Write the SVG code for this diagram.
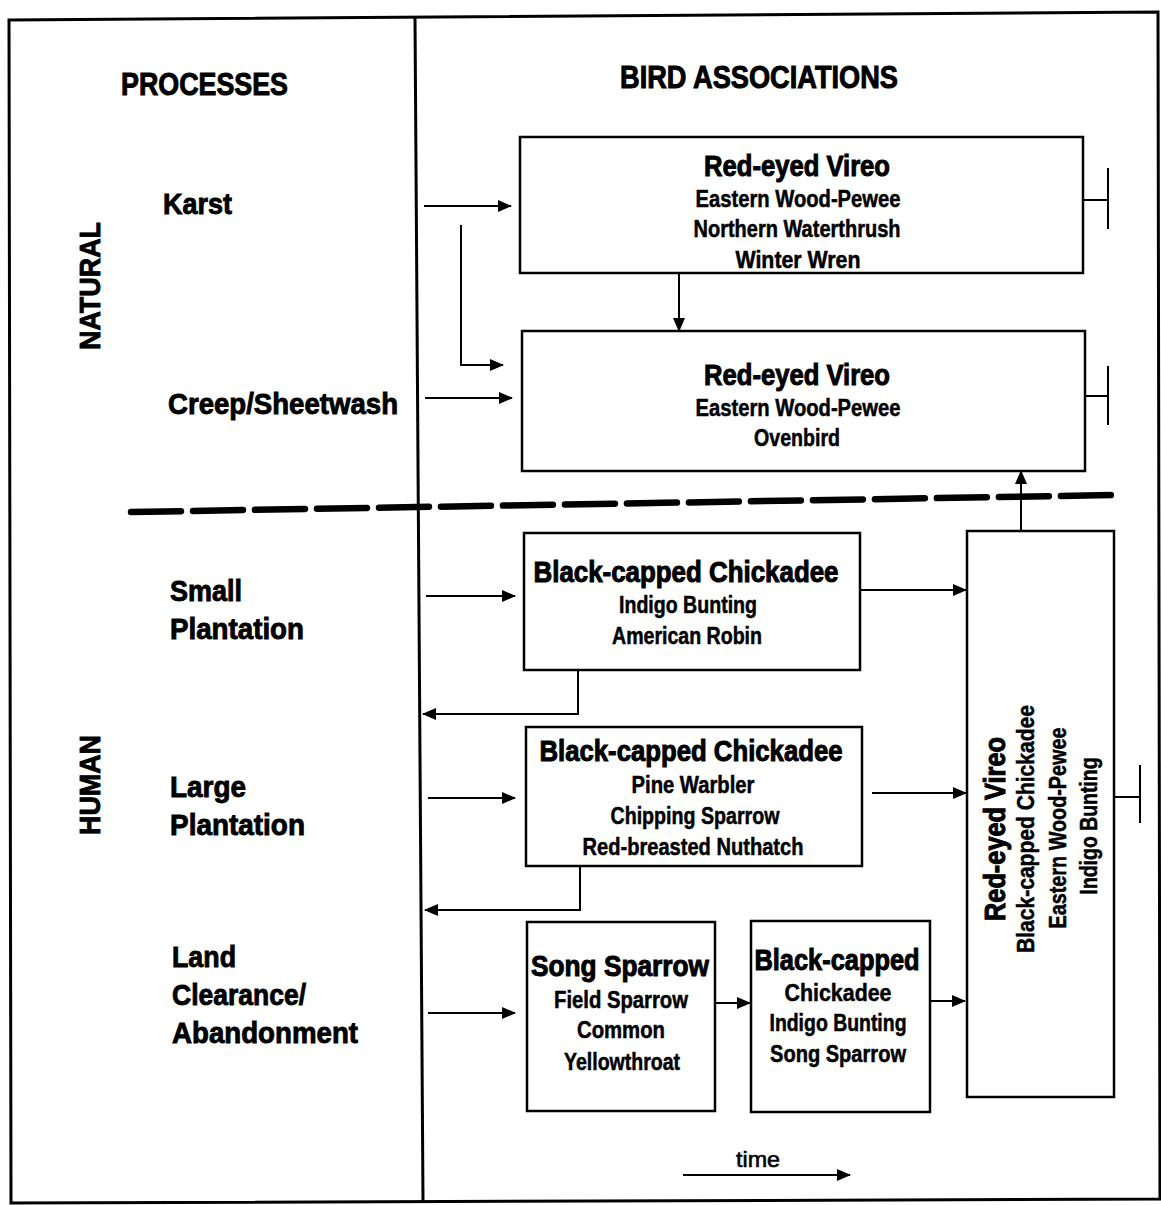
<svg xmlns="http://www.w3.org/2000/svg" width="1161" height="1205" viewBox="0 0 1161 1205">
<style>
text{font-family:"Liberation Sans",Arial,Helvetica,sans-serif;font-weight:bold;fill:#000;}
.h{font-size:32px;stroke:#000;stroke-width:1px;}
.p{font-size:30px;stroke:#000;stroke-width:0.9px;}
.t{font-size:29px;stroke:#000;stroke-width:1px;text-anchor:middle;}
.s{font-size:23px;stroke:#000;stroke-width:0.5px;text-anchor:middle;}
.box{fill:#fff;stroke:#000;stroke-width:2.5;}
.c{fill:none;stroke:#000;stroke-width:2;}
.frame{fill:none;stroke:#000;stroke-width:3;}
</style>
<defs>
<marker id="ah" markerUnits="userSpaceOnUse" markerWidth="14" markerHeight="12" refX="13" refY="6" orient="auto">
<path d="M0,0 L14,6 L0,12 Z" fill="#000"/>
</marker>
</defs>
<rect width="1161" height="1205" fill="#fff"/>
<g id="frame">
<path class="frame" d="M9,20 L1158,12 L1160,1199 L11,1203 Z"/>
<line x1="415" y1="18" x2="423" y2="1201" stroke="#000" stroke-width="3"/>
<line x1="131" y1="512" x2="1117" y2="495" stroke="#000" stroke-width="6.5" stroke-dasharray="50 12" stroke-linecap="round"/>
</g>
<g id="headings">
<text class="h" x="121" y="95" textLength="167" lengthAdjust="spacingAndGlyphs">PROCESSES</text>
<text class="h" x="620" y="88" textLength="278" lengthAdjust="spacingAndGlyphs">BIRD ASSOCIATIONS</text>
<text class="p" transform="translate(100,286) rotate(-90)" text-anchor="middle" textLength="128" lengthAdjust="spacingAndGlyphs">NATURAL</text>
<text class="p" transform="translate(100,785) rotate(-90)" text-anchor="middle" textLength="100" lengthAdjust="spacingAndGlyphs">HUMAN</text>
</g>
<g id="processes">
<text class="p" x="163" y="214" textLength="69" lengthAdjust="spacingAndGlyphs">Karst</text>
<text class="p" x="168" y="414" textLength="230" lengthAdjust="spacingAndGlyphs">Creep/Sheetwash</text>
<text class="p" x="170" y="601" textLength="72" lengthAdjust="spacingAndGlyphs">Small</text>
<text class="p" x="170" y="639" textLength="134" lengthAdjust="spacingAndGlyphs">Plantation</text>
<text class="p" x="170" y="797" textLength="76" lengthAdjust="spacingAndGlyphs">Large</text>
<text class="p" x="170" y="835" textLength="135" lengthAdjust="spacingAndGlyphs">Plantation</text>
<text class="p" x="172" y="967" textLength="64" lengthAdjust="spacingAndGlyphs">Land</text>
<text class="p" x="172" y="1005" textLength="134" lengthAdjust="spacingAndGlyphs">Clearance/</text>
<text class="p" x="172" y="1043" textLength="186" lengthAdjust="spacingAndGlyphs">Abandonment</text>
</g>
<g id="box1">
<rect class="box" x="520" y="137" width="563" height="136"/>
<text class="t" x="797" y="176" textLength="186" lengthAdjust="spacingAndGlyphs">Red-eyed Vireo</text>
<text class="s" x="798" y="207" textLength="205" lengthAdjust="spacingAndGlyphs">Eastern Wood-Pewee</text>
<text class="s" x="797" y="237" textLength="207" lengthAdjust="spacingAndGlyphs">Northern Waterthrush</text>
<text class="s" x="798" y="268" textLength="125" lengthAdjust="spacingAndGlyphs">Winter Wren</text>
</g>
<g id="box2">
<rect class="box" x="522" y="331" width="563" height="140"/>
<text class="t" x="797" y="385" textLength="186" lengthAdjust="spacingAndGlyphs">Red-eyed Vireo</text>
<text class="s" x="798" y="416" textLength="205" lengthAdjust="spacingAndGlyphs">Eastern Wood-Pewee</text>
<text class="s" x="797" y="446" textLength="86" lengthAdjust="spacingAndGlyphs">Ovenbird</text>
</g>
<g id="box3">
<rect class="box" x="524" y="533" width="336" height="137"/>
<text class="t" x="686" y="582" textLength="305" lengthAdjust="spacingAndGlyphs">Black-capped Chickadee</text>
<text class="s" x="688" y="613" textLength="138" lengthAdjust="spacingAndGlyphs">Indigo Bunting</text>
<text class="s" x="687" y="644" textLength="150" lengthAdjust="spacingAndGlyphs">American Robin</text>
</g>
<g id="box4">
<rect class="box" x="526" y="727" width="336" height="139"/>
<text class="t" x="691" y="761" textLength="303" lengthAdjust="spacingAndGlyphs">Black-capped Chickadee</text>
<text class="s" x="693" y="793" textLength="123" lengthAdjust="spacingAndGlyphs">Pine Warbler</text>
<text class="s" x="695" y="824" textLength="169" lengthAdjust="spacingAndGlyphs">Chipping Sparrow</text>
<text class="s" x="693" y="855" textLength="221" lengthAdjust="spacingAndGlyphs">Red-breasted Nuthatch</text>
</g>
<g id="box5">
<rect class="box" x="527" y="922" width="188" height="189"/>
<text class="t" x="620" y="976" textLength="178" lengthAdjust="spacingAndGlyphs">Song Sparrow</text>
<text class="s" x="621" y="1008" textLength="134" lengthAdjust="spacingAndGlyphs">Field Sparrow</text>
<text class="s" x="621" y="1038" textLength="88" lengthAdjust="spacingAndGlyphs">Common</text>
<text class="s" x="622" y="1070" textLength="116" lengthAdjust="spacingAndGlyphs">Yellowthroat</text>
</g>
<g id="box6">
<rect class="box" x="751" y="921" width="179" height="191"/>
<text class="t" x="837" y="970" textLength="165" lengthAdjust="spacingAndGlyphs">Black-capped</text>
<text class="s" x="838" y="1001" textLength="107" lengthAdjust="spacingAndGlyphs">Chickadee</text>
<text class="s" x="838" y="1031" textLength="137" lengthAdjust="spacingAndGlyphs">Indigo Bunting</text>
<text class="s" x="838" y="1062" textLength="136" lengthAdjust="spacingAndGlyphs">Song Sparrow</text>
</g>
<g id="box7">
<rect class="box" x="967" y="531" width="147" height="566"/>
<text class="t" transform="translate(1005,829) rotate(-90)" textLength="184" lengthAdjust="spacingAndGlyphs">Red-eyed Vireo</text>
<text class="s" transform="translate(1034,829) rotate(-90)" textLength="248" lengthAdjust="spacingAndGlyphs">Black-capped Chickadee</text>
<text class="s" transform="translate(1066,828) rotate(-90)" textLength="201" lengthAdjust="spacingAndGlyphs">Eastern Wood-Pewee</text>
<text class="s" transform="translate(1097,826) rotate(-90)" textLength="137" lengthAdjust="spacingAndGlyphs">Indigo Bunting</text>
</g>
<g id="connectors">
<path class="c" d="M424,206 H511" marker-end="url(#ah)"/>
<path class="c" d="M461,225 V365 H503" marker-end="url(#ah)"/>
<path class="c" d="M425,398 H512" marker-end="url(#ah)"/>
<path class="c" d="M679,273 V331" marker-end="url(#ah)"/>
<path class="c" d="M1021,531 V471" marker-end="url(#ah)"/>
<path class="c" d="M426,596 H515" marker-end="url(#ah)"/>
<path class="c" d="M428,798 H515" marker-end="url(#ah)"/>
<path class="c" d="M428,1013 H515" marker-end="url(#ah)"/>
<path class="c" d="M860,590 H966" marker-end="url(#ah)"/>
<path class="c" d="M872,793 H966" marker-end="url(#ah)"/>
<path class="c" d="M715,1003 H750" marker-end="url(#ah)"/>
<path class="c" d="M930,1001 H965" marker-end="url(#ah)"/>
<path class="c" d="M578,670 V714 H423" marker-end="url(#ah)"/>
<path class="c" d="M580,866 V910 H425" marker-end="url(#ah)"/>
<path class="c" d="M683,1175 H850" marker-end="url(#ah)"/>
<path class="c" d="M1083,200 H1108 M1108,168 V229"/>
<path class="c" d="M1085,396 H1108 M1108,366 V425"/>
<path class="c" d="M1114,797 H1140 M1140,765 V823"/>
</g>
<g id="time-label">
<text x="758" y="1167" text-anchor="middle" style="font-size:22px;font-weight:normal;stroke:#000;stroke-width:0.6px" textLength="44" lengthAdjust="spacingAndGlyphs">time</text>
</g>
</svg>
